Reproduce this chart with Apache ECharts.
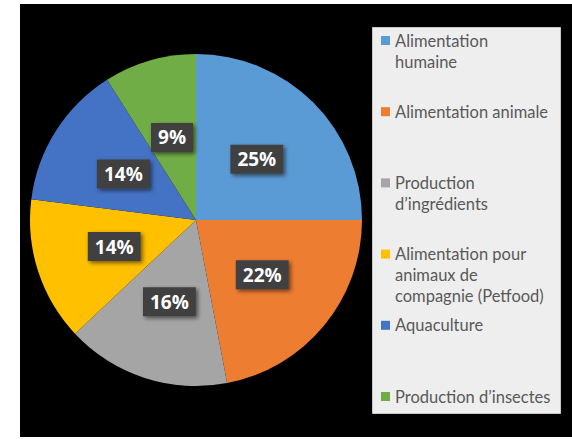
<!DOCTYPE html>
<html>
<head>
<meta charset="utf-8">
<script src="https://cdn.jsdelivr.net/npm/echarts@6/dist/echarts.min.js"></script>
<style>
  html, body { margin: 0; padding: 0; background: #ffffff; width: 572px; height: 439px; overflow: hidden; }
  #chart { position: absolute; left: 20px; top: 4px; width: 552px; height: 433px; }
</style>
</head>
<body>
<div id="chart"></div>
<script>
// Data
const categories = [
  'Alimentation humaine',
  'Alimentation animale',
  'Production d’ingrédients',
  'Alimentation pour animaux de compagnie (Petfood)',
  'Aquaculture',
  'Production d’insectes'
];
const legendLabels = [
  'Alimentation\nhumaine',
  'Alimentation animale',
  'Production\nd’ingrédients',
  'Alimentation pour\nanimaux de\ncompagnie (Petfood)',
  'Aquaculture',
  'Production d’insectes'
];
const values = [25, 22, 16, 14, 14, 9];
const colors = ['#5B9BD5', '#ED7D31', '#A5A5A5', '#FFC000', '#4472C4', '#70AD47'];

const chart = echarts.init(document.getElementById('chart'), null, { renderer: 'svg' });

const LINE_H = 21;
const textStyle = {
  color: '#595959',
  fontFamily: 'Lato',
  fontSize: 16.5,
  lineHeight: LINE_H
};
const legends = [];
categories.forEach((name, i) => {
  const lines = legendLabels[i].split('\n');
  const c = 36.5 + i * 71.2; // icon centre
  legends.push({
    data: [name],
    orient: 'vertical',
    left: 361,
    top: c - LINE_H / 2,
    padding: 0,
    itemWidth: 9,
    itemHeight: 9,
    icon: 'rect',
    selectedMode: false,
    formatter: () => lines[0],
    textStyle: textStyle
  });
  if (lines.length > 1) {
    legends.push({
      data: [name],
      orient: 'vertical',
      left: 361,
      top: c + LINE_H / 2,
      padding: 0,
      itemWidth: 9,
      itemHeight: 9,
      icon: 'none',
      selectedMode: false,
      formatter: () => lines.slice(1).join('\n'),
      textStyle: textStyle
    });
  }
});

chart.setOption({
  backgroundColor: '#000000',
  animation: false,
  color: colors,
  graphic: [{
    type: 'rect',
    left: 352,
    top: 23,
    shape: { width: 188, height: 386 },
    style: { fill: '#EEEEEE', stroke: '#C8C8C8', lineWidth: 1 },
    z: 0
  }],
  legend: legends,
  series: [{
    type: 'pie',
    center: [176, 216],
    radius: 166,
    startAngle: 90,
    clockwise: true,
    emphasis: { disabled: true },
    label: {
      show: true,
      position: 'inside',
      formatter: '{c}%',
      color: '#ffffff',
      fontFamily: 'Open Sans',
      fontWeight: 'bold',
      fontSize: 19,
      lineHeight: 21,
      backgroundColor: '#404040',
      padding: [4, 7, 4, 7],
      shadowBlur: 4,
      shadowColor: 'rgba(0,0,0,0.55)',
      shadowOffsetX: 2,
      shadowOffsetY: 2
    },
    labelLine: { show: false },
    itemStyle: { borderWidth: 0 },
    data: categories.map((name, i) => ({ name: name, value: values[i] }))
  }]
});
</script>
</body>
</html>
